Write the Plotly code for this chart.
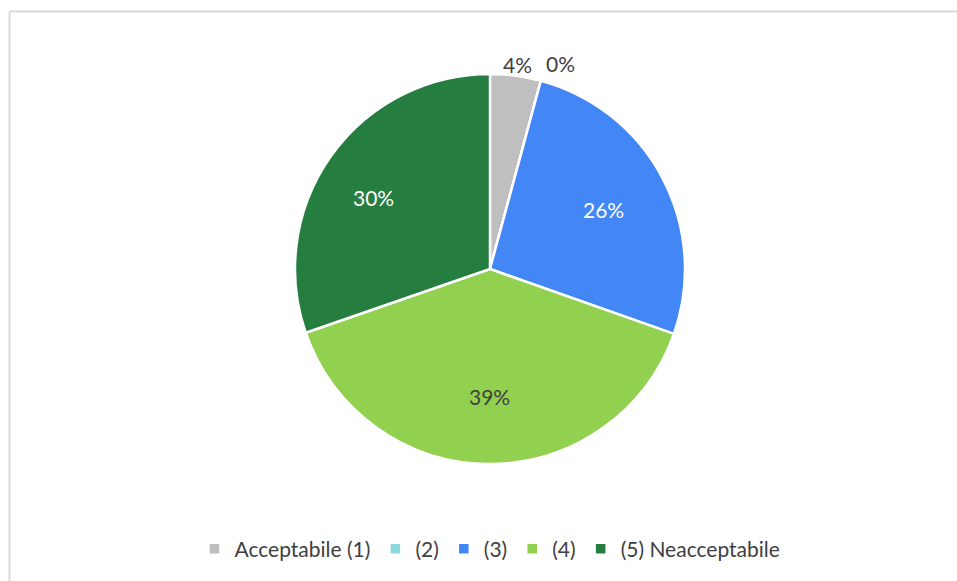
import math
import plotly.graph_objects as go

labels = ["Acceptabile (1)", "(2)", "(3)", "(4)", "(5) Neacceptabile"]
values = [4.2, 0.0, 26.2, 39.3, 30.3]
colors = ["#BFBFBF", "#8FD7DE", "#4287F5", "#92D050", "#267D40"]
text_colors = ["#404040", "#404040", "#FFFFFF", "#404040", "#FFFFFF"]

W, H = 957, 581
cx, cy, R = 490, 269, 195

# data-label placement (fraction of radius, angle nudge in degrees) like Excel
label_r = [1.06, 1.115, 0.66, 0.655, 0.70]
label_nudge = [0, 3.8, 0, 0, -4]

total = sum(values)
pct = [f"{v / total:.0%}" for v in values]

fig = go.Figure(go.Pie(
    labels=labels,
    values=values,
    sort=False,
    direction="clockwise",
    rotation=0,
    marker=dict(colors=colors, line=dict(color="white", width=2.5)),
    textinfo="none",
    domain=dict(x=[(cx - R) / W, (cx + R) / W],
                y=[(H - cy - R) / H, (H - cy + R) / H]),
    hoverinfo="label+percent",
))

# data labels at the mid angle of each slice
annotations = []
start = 0.0
for i, v in enumerate(values):
    mid = start + v / total * 180 + label_nudge[i]
    start += v / total * 360
    a = math.radians(mid)
    px_ = cx + math.sin(a) * R * label_r[i]
    py_ = cy - math.cos(a) * R * label_r[i]
    annotations.append(dict(text=pct[i], xref="paper", yref="paper",
                            x=px_ / W, y=(H - py_) / H, showarrow=False,
                            xanchor="center", yanchor="middle",
                            font=dict(size=21, color=text_colors[i], family="Lato")))

fig.update_layout(
    width=W, height=H,
    margin=dict(l=0, r=0, t=0, b=0),
    paper_bgcolor="white",
    plot_bgcolor="white",
    font=dict(family="Lato", size=21, color="#404040"),
    showlegend=True,
    legend=dict(orientation="h", x=cx / W, xanchor="center",
                y=(H - 549) / H, yanchor="middle",
                font=dict(size=21, color="#404040"), itemwidth=30,
                traceorder="normal"),
    annotations=annotations,
    shapes=[
        dict(type="line", xref="paper", yref="paper",
             x0=9.5 / W, x1=1.0, y0=1 - 11.5 / H, y1=1 - 11.5 / H,
             line=dict(color="#D9D9D9", width=2)),
        dict(type="line", xref="paper", yref="paper",
             x0=9.5 / W, x1=9.5 / W, y0=0, y1=1 - 11.5 / H,
             line=dict(color="#D9D9D9", width=2)),
    ],
)

# drop the default page margin so the figure fills the window exactly
fig.write_html("out.html",
               config={"displayModeBar": False},
               post_script="document.body.style.margin='0';"
                           "document.body.style.overflow='hidden';")
